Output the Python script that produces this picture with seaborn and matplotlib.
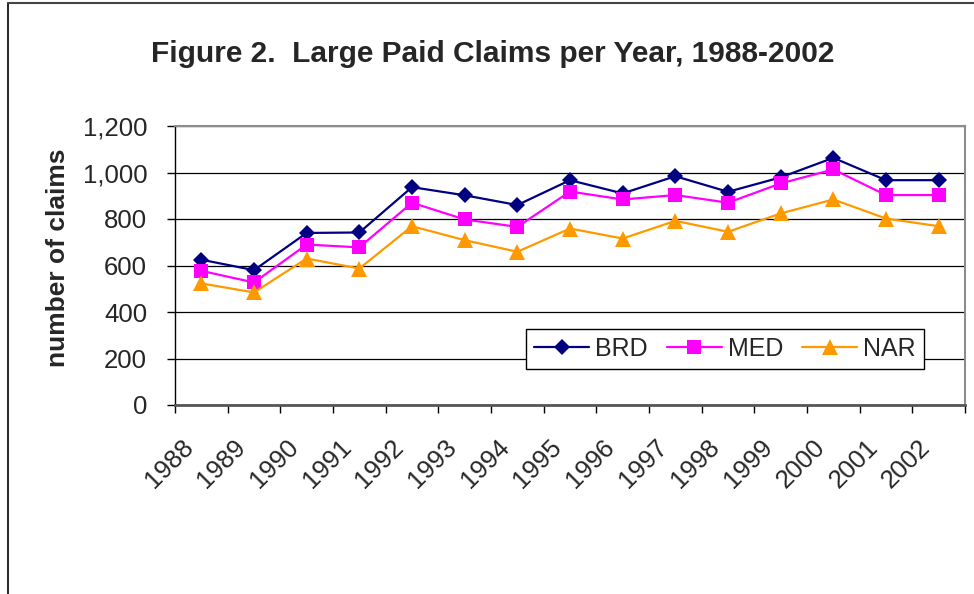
import numpy as np
import pandas as pd
from matplotlib import pyplot as plt
from matplotlib.lines import Line2D
from matplotlib.ticker import StrMethodFormatter, FixedLocator
from matplotlib.transforms import ScaledTranslation
import seaborn as sns


years = ['1988', '1989', '1990', '1991', '1992', '1993', '1994', '1995',
         '1996', '1997', '1998', '1999', '2000', '2001', '2002']
brd = [625, 580, 740, 742, 937, 902, 860, 967, 910, 984, 917, 979, 1063, 967, 967]
med = [577, 527, 690, 678, 870, 798, 766, 918, 884, 903, 870, 953, 1013, 903, 903]
nar = [523, 484, 630, 587, 769, 709, 659, 759, 716, 792, 745, 824, 884, 802, 769]
series_names = ['BRD', 'MED', 'NAR']
y_ticks = [0, 200, 400, 600, 800, 1000, 1200]


def build_frame():
    rows = []
    for name, values in zip(series_names, [brd, med, nar]):
        for i, (year, v) in enumerate(zip(years, values)):
            rows.append([name, i, year, v])
    return pd.DataFrame(rows, columns=['series', 'pos', 'year', 'claims'])


def main():
    df = build_frame()
    sns.set_style('white')
    plt.rcParams['font.family'] = ['Liberation Sans', 'DejaVu Sans']

    fig = plt.figure(figsize=(9.74, 5.94), dpi=100)
    ax = fig.add_axes([175 / 974, 1 - 405 / 594, 790 / 974, 279 / 594])

    styles = {
        'BRD': dict(color='#000080', marker='D', markersize=7.8),
        'MED': dict(color='#FF00FF', marker='s', markersize=10),
        'NAR': dict(color='#FF9900', marker='^', markersize=11),
    }
    for name in series_names:
        sub = df[df['series'] == name]
        sns.lineplot(data=sub, x='pos', y='claims', ax=ax, label=name,
                     linewidth=1.6, markeredgewidth=0, **styles[name])

    ax.set_xlim(-0.5, len(years) - 0.5)
    ax.set_ylim(0, 1200)
    ax.yaxis.set_major_locator(FixedLocator(y_ticks))
    ax.yaxis.set_major_formatter(StrMethodFormatter('{x:,.0f}'))
    ax.grid(axis='y', color='black', linewidth=0.9)
    ax.set_axisbelow(True)

    ax.set_xticks(range(len(years)))
    ax.set_xticks(np.arange(-0.5, len(years)), minor=True)
    ax.tick_params(axis='x', which='major', length=0, pad=28, labelsize=18.5)
    ax.tick_params(axis='x', which='minor', length=6, width=1, color='black',
                   direction='out', bottom=True)
    ax.tick_params(axis='y', length=6, width=1, color='black', direction='out',
                   left=True, labelsize=18.5, pad=14)
    ax.set_xticklabels(years, rotation=45, ha='right', va='center',
                       rotation_mode='anchor')
    # nudge the rotated year labels left, like the original
    shift = ScaledTranslation(-12 / 100, 0, fig.dpi_scale_trans)
    for lab in ax.get_xticklabels():
        lab.set_transform(lab.get_transform() + shift)

    for side in ['top', 'right']:
        ax.spines[side].set_color('#8c8c8c')
        ax.spines[side].set_linewidth(1.5)
    ax.spines['left'].set_color('black')
    ax.spines['left'].set_linewidth(1)
    ax.spines['bottom'].set_color('#555555')
    ax.spines['bottom'].set_linewidth(2)

    ax.set_xlabel('')
    ax.set_ylabel('number of claims', fontsize=19, fontweight='bold')
    ax.yaxis.set_label_coords((70 - 175) / 790, (405 - 258) / 279)

    leg = ax.legend(loc='upper left', bbox_to_anchor=((526 - 175) / 790, (405 - 329) / 279),
                    ncol=3, fontsize=18, frameon=True, fancybox=False,
                    handlelength=2.2, handletextpad=0.25, columnspacing=0.75,
                    borderpad=0.32, borderaxespad=0)
    leg.get_frame().set_edgecolor('black')
    leg.get_frame().set_linewidth(1)
    leg.get_frame().set_alpha(1)

    fig.text(0.5 + 6 / 974, 1 - 62 / 594, 'Figure 2.  Large Paid Claims per Year, 1988-2002',
             ha='center', va='baseline', fontsize=21.5, fontweight='bold')

    fig.add_artist(Line2D([8 / 974, 8 / 974], [-0.1, 1 - 3 / 594],
                          color='black', linewidth=1.2, transform=fig.transFigure))
    fig.add_artist(Line2D([8 / 974, 1.1], [1 - 3 / 594, 1 - 3 / 594],
                          color='#444444', linewidth=1.5, transform=fig.transFigure))

    plt.savefig('out.png', dpi=100)


if __name__ == '__main__':
    main()
